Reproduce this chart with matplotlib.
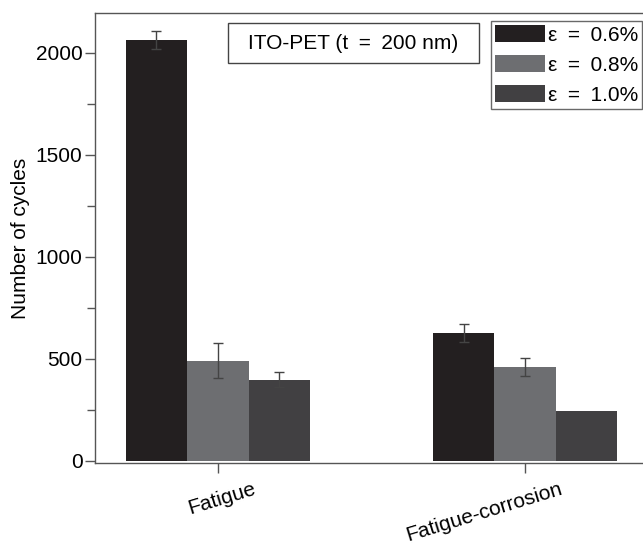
import numpy as np
import matplotlib
matplotlib.use('Agg')
import matplotlib.pyplot as plt
import matplotlib.transforms as mtransforms
from matplotlib.patches import Rectangle

plt.rcParams['font.family'] = ['Liberation Sans', 'DejaVu Sans']

# data
categories = ['Fatigue', 'Fatigue-corrosion']
strain_labels = ['\u03b5\u2002=\u20020.6%', '\u03b5\u2002=\u20020.8%', '\u03b5\u2002=\u20021.0%']
cycles_06 = [2064, 627]
cycles_08 = [490, 461]
cycles_10 = [397, 245]
err_06 = [45, 45]
err_08 = [85, 44]
err_10 = [38, 0]

colors = ['#231f20', '#6d6e71', '#414042']
series = [cycles_06, cycles_08, cycles_10]
errors = [err_06, err_08, err_10]

fig = plt.figure(figsize=(6.43, 5.45), dpi=100)
ax = fig.add_axes([0.1477, 0.1505, 0.86, 0.8257])

x = np.arange(len(categories))
w = 0.2
for i, (vals, errs, c, lab) in enumerate(zip(series, errors, colors, strain_labels)):
    pos = x + (i - 1) * w
    ax.bar(pos, vals, width=w, color=c, label=lab, zorder=2)
    e = np.array(errs)
    m = e > 0
    ax.errorbar(pos[m], np.array(vals)[m], yerr=e[m], fmt='none',
                ecolor='#444444', elinewidth=1, capsize=3.5, capthick=1, zorder=3)

ax.set_xlim(-0.4, 1.4)
ax.set_ylim(-12, 2195)
ax.set_yticks([0, 500, 1000, 1500, 2000])
ax.set_yticks([250, 750, 1250, 1750], minor=True)
ax.set_xticks(x)
ax.set_xticklabels([])

# rotated category labels, top-right corner a bit right of the tick
offset = mtransforms.ScaledTranslation(0.40, -0.16, fig.dpi_scale_trans)
for xi, cat in zip(x, categories):
    ax.text(xi, 0, cat, transform=ax.get_xaxis_transform() + offset,
            rotation=17, ha='right', va='top', fontsize=15)

for s in ax.spines.values():
    s.set_color('#555555')
    s.set_linewidth(1)
ax.tick_params(axis='both', which='major', length=7, width=1, color='#555555',
               labelsize=15, direction='out', pad=2)
ax.tick_params(axis='y', which='minor', length=6, width=1, color='#555555')

ax.set_ylabel('Number of cycles', fontsize=15, labelpad=4)

# annotation box
ax.add_patch(Rectangle((0.2405, 0.8889), 0.4539, 0.0889, transform=ax.transAxes,
                       facecolor='white', edgecolor='#444444', linewidth=1, zorder=4))
ax.text(0.4675, 0.933, 'ITO-PET (t\u2002=\u2002200 nm)', transform=ax.transAxes,
        ha='center', va='center', fontsize=15, zorder=5)

leg = ax.legend(loc='upper right', bbox_to_anchor=(0.9984, 0.9615),
                bbox_transform=fig.transFigure, fontsize=15, frameon=True,
                fancybox=False, edgecolor='#444444', handlelength=2.4,
                handleheight=0.85, handletextpad=0.1, labelspacing=0.5,
                borderpad=0.2, borderaxespad=0)
leg.get_frame().set_linewidth(1)

fig.savefig('out.png', dpi=100)
